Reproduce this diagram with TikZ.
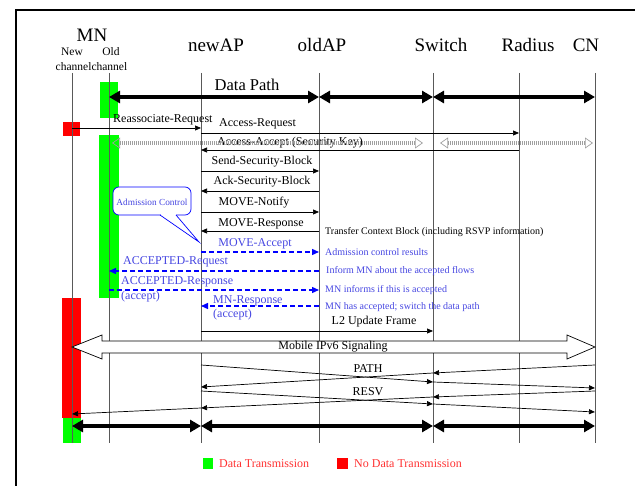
\documentclass[tikz,border=0pt]{standalone}
\usepackage{fontspec}
\setmainfont{Liberation Serif}
\usetikzlibrary{arrows.meta}
\definecolor{mgreen}{RGB}{0,255,0}
\definecolor{mred}{RGB}{255,0,0}
\definecolor{tblue}{RGB}{70,70,225}
\definecolor{lblue}{RGB}{0,0,255}
\definecolor{lgred}{RGB}{255,50,50}
\begin{document}
\begin{tikzpicture}[x=1pt,y=-1pt,
  life/.style={draw=black!65, line width=0.8pt},
  msg/.style={draw=black, line width=0.7pt, -{Triangle[length=6pt,width=5pt]}},
  bmsg/.style={draw=lblue, line width=1.4pt, dash pattern=on 5pt off 3pt, -{Triangle[length=7pt,width=6pt]}},
  dpath/.style={line width=3.5pt, {Triangle[length=11pt,width=12pt]}-{Triangle[length=11pt,width=12pt]}},
  hatch/.style={draw=gray!75, line width=4.5pt, dash pattern=on 1pt off 1pt,
     {Triangle[open,length=8pt,width=11pt,line width=0.7pt]}-{Triangle[open,length=8pt,width=11pt,line width=0.7pt]}},
  lbl/.style={font=\fontsize{12}{14}\selectfont, inner sep=0pt},
  blbl/.style={font=\fontsize{12}{14}\selectfont, inner sep=0pt, text=tblue},
  note/.style={font=\fontsize{10}{12}\selectfont, inner sep=0pt, anchor=west},
  bnote/.style={font=\fontsize{10}{12}\selectfont, inner sep=0pt, anchor=west, text=tblue},
  head/.style={font=\fontsize{19}{22}\selectfont, inner sep=0pt},
  sub/.style={font=\fontsize{11.5}{13}\selectfont, inner sep=0pt},
  legtext/.style={font=\fontsize{12}{14}\selectfont, inner sep=0pt, anchor=west, text=lgred},
  ]
\useasboundingbox (0,0) rectangle (635,486);
% frame
\draw[line width=2pt] (16,486) -- (16,10) -- (635,10);

% lifeline coordinates
\coordinate (mnN) at (72,0);
\coordinate (mnO) at (109,0);
\coordinate (nap) at (201,0);
\coordinate (oap) at (319,0);
\coordinate (sw)  at (433,0);
\coordinate (rad) at (519,0);
\coordinate (cn)  at (595,0);

% headers
\node[head] (hMN) at (92,35) {MN};
\node[sub] (hNew) at (72,52) {New};
\node[sub] (hOld) at (111,52) {Old};
\node[sub] (hCh) at (91.5,67) {channelchannel};
\node[head] (hNAP) at (216,45) {newAP};
\node[head] (hOAP) at (322,45) {oldAP};
\node[head] (hSW) at (441,45) {Switch};
\node[head] (hRad) at (528,45) {Radius};
\node[head] (hCN) at (586,45) {CN};

% channel state bars
\fill[mgreen] (100,82) rectangle (118,118);
\fill[mred] (63,122) rectangle (80,136);
\fill[mgreen] (99,135) rectangle (119,298);
\fill[mred] (62,298) rectangle (81,418);
\fill[mgreen] (63,418) rectangle (81,443);

% lifelines
\foreach \c in {mnN,mnO,nap,oap,sw,rad,cn}
  \draw[life] (\c|-0,73) -- (\c|-0,443);

% data path (top)
\node[font=\fontsize{16.5}{19}\selectfont, inner sep=0pt] (dp) at (247,85) {Data Path};
\draw[dpath] (mnO|-0,97) -- (oap|-0,97);
\draw[dpath] (oap|-0,97) -- (sw|-0,97);
\draw[dpath] (sw|-0,97) -- (cn|-0,97);

% messages
\draw[msg] (mnN|-0,128) -- (nap|-0,128);
\node[lbl, anchor=west] (m1) at (113,120) {Reassociate-Request};
\draw[msg] (nap|-0,133) -- (rad|-0,133);
\node[lbl, anchor=west] (m2) at (219,124) {Access-Request};
\draw[msg] (rad|-0,150) -- (nap|-0,150);
\node[lbl] (m3) at (290,143) {Access-Accept (Security Key)};
\draw[hatch] (112,143) -- (423,143);
\draw[hatch] (440,143) -- (593,143);
\draw[msg] (nap|-0,171) -- (oap|-0,171);
\node[lbl] (m4) at (262,162) {Send-Security-Block};
\draw[msg] (oap|-0,191) -- (nap|-0,191);
\node[lbl] (m5) at (262,182) {Ack-Security-Block};
\draw[msg] (nap|-0,212) -- (oap|-0,212);
\node[lbl] (m6) at (254,203) {MOVE-Notify};
\draw[msg] (oap|-0,231) -- (nap|-0,231);
\node[lbl] (m7) at (261,224) {MOVE-Response};
\node[note] (n1) at (325,232) {Transfer Context Block (including RSVP information)};

% blue messages
\draw[bmsg] (nap|-0,252) -- (oap|-0,252);
\node[blbl] (b1) at (255,244) {MOVE-Accept};
\node[bnote] (bn1) at (325,252) {Admission control results};
\draw[bmsg] (oap|-0,271) -- (mnO|-0,271);
\node[blbl, anchor=west] (b2) at (123,262) {ACCEPTED-Request};
\node[bnote] (bn2) at (326,271) {Inform MN about the accepted flows};
\draw[bmsg] (mnO|-0,290) -- (oap|-0,290);
\node[blbl, anchor=west] (b3) at (121,282) {ACCEPTED-Response};
\node[blbl, anchor=west] (b3a) at (121,297) {(accept)};
\node[bnote] (bn3) at (325,290) {MN informs if this is accepted};
\draw[bmsg] (oap|-0,306) -- (nap|-0,306);
\node[blbl, anchor=west] (b4) at (213,301) {MN-Response};
\node[blbl, anchor=west] (b4a) at (213,315) {(accept)};
\node[bnote] (bn4) at (325,307) {MN has accepted; switch the data path};

% admission control callout
\draw[lblue, line width=0.7pt, rounded corners=6pt, fill=white] (113,187) rectangle (191,215);
\fill[white] (160.5,213.5) rectangle (175.5,216.5);
\draw[lblue, line width=0.7pt] (160,215) -- (199,242) -- (176,215);
\node[font=\fontsize{9.3}{11}\selectfont, inner sep=0pt, text=tblue] (ac) at (152,202) {Admission Control};

% L2 update
\draw[msg] (nap|-0,331) -- (sw|-0,331);
\node[lbl] (l2) at (374,322) {L2 Update Frame};

% Mobile IPv6 signaling
\draw[line width=0.7pt, fill=white] (72,347) -- (102,335) -- (102,341) -- (567,341) -- (567,335)
  -- (595,347) -- (567,359) -- (567,353) -- (102,353) -- (102,359) -- cycle;
\node[lbl] (mip) at (333,347) {Mobile IPv6 Signaling};

% PATH
\draw[msg] (nap|-0,365) -- (sw|-0,382);
\draw[msg] (sw|-0,382) -- (cn|-0,388);
\draw[msg] (cn|-0,365) -- (sw|-0,373);
\draw[msg] (sw|-0,373) -- (nap|-0,387);
\node[lbl] (path) at (368,369) {PATH};
% RESV
\draw[msg] (nap|-0,391) -- (sw|-0,404);
\draw[msg] (sw|-0,404) -- (cn|-0,412);
\draw[msg] (cn|-0,391) -- (sw|-0,397);
\draw[msg] (sw|-0,397) -- (nap|-0,408);
\draw[msg] (nap|-0,408) -- (mnN|-0,414);
\node[lbl] (resv) at (368,392) {RESV};

% data path (bottom)
\draw[dpath] (mnN|-0,426) -- (nap|-0,426);
\draw[dpath] (nap|-0,426) -- (sw|-0,426);
\draw[dpath] (sw|-0,426) -- (cn|-0,426);

% legend
\fill[mgreen] (203,458) rectangle (213,469);
\node[legtext] (lg1) at (219,464) {Data Transmission};
\fill[mred] (337,458) rectangle (348,469);
\node[legtext] (lg2) at (354,464) {No Data Transmission};
\end{tikzpicture}
\end{document}
